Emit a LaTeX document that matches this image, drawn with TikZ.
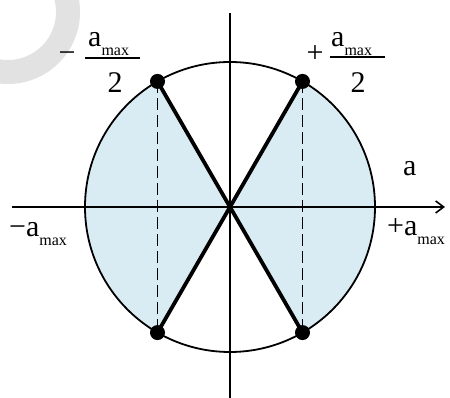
\documentclass[tikz,border=0pt]{standalone}
\usepackage{fontspec}
\setmainfont{Liberation Serif}
\usetikzlibrary{arrows.meta,calc}
\definecolor{shadeblue}{RGB}{218,236,243}
\definecolor{wmgray}{RGB}{226,226,226}
\newcommand{\amaxtxt}{a\raisebox{-0.3em}{\fontsize{16}{16}\selectfont max}}
\begin{document}
\begin{tikzpicture}[x=1pt,y=1pt,
  lbl/.style={inner sep=0pt, font=\fontsize{30}{34}\selectfont},
  axisline/.style={line width=1.6pt},
  rim/.style={line width=1.8pt},
  drop/.style={line width=1.8pt, dash pattern=on 12pt off 5pt},
  chord/.style={line width=3.8pt},
  fracbar/.style={line width=1.8pt},
  dot/.style={circle, fill=black, inner sep=0pt, minimum size=15pt}]
\useasboundingbox (0,0) rectangle (450,398);
\clip (0,0) rectangle (450,398);
% watermark ring
\draw[wmgray, line width=24pt] (8,386) circle (60);
% key points
\coordinate (O) at (230,191);
\coordinate (TR) at ($(O)+(60:145)$);
\coordinate (TL) at ($(O)+(120:145)$);
\coordinate (BL) at ($(O)+(240:145)$);
\coordinate (BR) at ($(O)+(300:145)$);
% shaded sectors
\fill[shadeblue] (O) -- (TR) arc[start angle=60,end angle=-60,radius=145] -- cycle;
\fill[shadeblue] (O) -- (TL) arc[start angle=120,end angle=240,radius=145] -- cycle;
% axes
\coordinate (xs) at (12,191);
\coordinate (xe) at (445,191);
\coordinate (ys) at (230,0);
\coordinate (ye) at (230,385);
\draw[axisline, -{Straight Barb[length=8pt,width=12pt]}] (xs) -- (xe);
\draw[axisline] (ys) -- (ye);
% dashed drops
\draw[drop] (TL) -- (BL);
\draw[drop] (TR) -- (BR);
% circle
\draw[rim] (O) circle (145);
% chords through centre
\draw[chord] (TL) -- (BR);
\draw[chord] (TR) -- (BL);
% dots
\node[dot] (dTL) at (TL) {};
\node[dot] (dTR) at (TR) {};
\node[dot] (dBL) at (BL) {};
\node[dot] (dBR) at (BR) {};
% left fraction
\node[lbl, anchor=base] (lminus) at (67,335) {−};
\node[lbl, anchor=base west] (lnum) at (88,351) {\amaxtxt};
\draw[fracbar] (85,340) -- (140,340);
\node[lbl, anchor=base] (lden) at (115,305) {2};
% right fraction
\node[lbl, anchor=base] (rplus) at (315,335) {+};
\node[lbl, anchor=base west] (rnum) at (331,351) {\amaxtxt};
\draw[fracbar] (330,341) -- (385,341);
\node[lbl, anchor=base] (rden) at (358,305) {2};
% axis labels
\node[lbl, anchor=base west] (alabel) at (403,222) {a};
\node[lbl, anchor=base west] (negmax) at (9,161) {−\amaxtxt};
\node[lbl, anchor=base west] (posmax) at (387,162) {+\amaxtxt};
\end{tikzpicture}
\end{document}
